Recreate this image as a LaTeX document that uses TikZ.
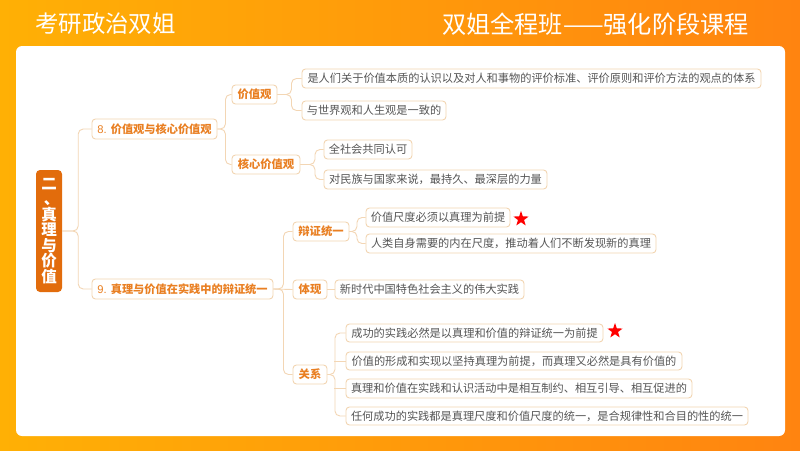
\documentclass[tikz,border=0pt]{standalone}
\usepackage{fontspec}
\setmainfont{Noto Sans CJK SC}
\newfontfamily\latinf{Liberation Sans}
\usetikzlibrary{shapes.geometric}
\definecolor{bgl}{HTML}{FFB005}
\definecolor{bgm}{HTML}{FF9A12}
\definecolor{bgr}{HTML}{FF8410}
\definecolor{rootc}{HTML}{E26C0C}
\definecolor{edgec}{HTML}{F3D6B4}
\definecolor{boxc}{HTML}{F2D5B2}
\definecolor{labc}{HTML}{E97F22}
\definecolor{leafc}{HTML}{555555}
\tikzset{
  base/.style={draw=boxc,fill=white,line width=0.9pt,rounded corners=3.5pt,inner sep=0pt,align=center},
  leafbox/.style={base,text=leafc,font=\fontsize{11.2}{13}\selectfont},
  labbox/.style={base,text=labc,font=\fontsize{11.3}{13}\selectfont\bfseries},
  headbox/.style={base,text=labc,font=\fontsize{11.2}{13}\selectfont\bfseries},
  conn/.style={draw=edgec,line width=0.9pt,rounded corners=5pt},
  rootbox/.style={fill=rootc,rounded corners=4pt,inner sep=0pt,text=white,align=center,
    font=\fontsize{15.5}{15.5}\selectfont\bfseries},
  titletext/.style={text=white,inner sep=0pt,font=\fontsize{23.4}{25}\selectfont},
  titletextb/.style={text=white,inner sep=0pt,font=\fontsize{24.2}{25}\selectfont},
  starmark/.style={star,star points=5,star point ratio=2.5,fill=red,inner sep=0pt,minimum size=16pt},
}
\newcommand{\bx}[7]{\node[#2,minimum width={(#5-#3)*1pt},minimum height={(#6-#4)*1pt}] (#1) at ({(#3+#5)/2},{(#4+#6)/2}) {#7};}
\begin{document}
\begin{tikzpicture}[x=1pt,y=-1pt]
\useasboundingbox (0,0) rectangle (800,450);
\shade[left color=bgl,middle color=bgm,right color=bgr] (0,0) rectangle (800,450);
\fill[white,rounded corners=6pt] (16,46) rectangle (785,436);
\node[titletext,anchor=west] (title1) at (35,24) {考研政治双姐};
\node[titletextb,anchor=east] (title2) at (749,24) {双姐全程班——强化阶段课程};
\bx{root}{rootbox}{36}{170}{62}{292}{二\\\hspace*{5pt}、\\真\\理\\与\\价\\值}
\bx{n8}{headbox}{92}{119}{217}{139}{{\latinf\mdseries 8. }价值观与核心价值观}
\bx{n9}{headbox}{92}{279}{273}{299}{{\latinf\mdseries 9. }真理与价值在实践中的辩证统一}
\bx{a1}{labbox}{232}{85}{277}{104}{价值观}
\bx{a2}{labbox}{232}{155}{300}{174}{核心价值观}
\bx{a1x}{leafbox}{302}{69}{761}{88}{是人们关于价值本质的认识以及对人和事物的评价标准、评价原则和评价方法的观点的体系}
\bx{a1y}{leafbox}{302}{101}{446}{120}{与世界观和人生观是一致的}
\bx{a2x}{leafbox}{324}{140}{412}{159}{全社会共同认可}
\bx{a2y}{leafbox}{324}{170}{547}{189}{对民族与国家来说，最持久、最深层的力量}
\bx{b1}{labbox}{293}{222}{349}{241}{辩证统一}
\bx{b2}{labbox}{293}{280}{327}{299}{体现}
\bx{b3}{labbox}{293}{365}{327}{384}{关系}
\bx{b1x}{leafbox}{366}{208}{510}{227}{价值尺度必须以真理为前提}
\bx{b1y}{leafbox}{366}{234}{656}{253}{人类自身需要的内在尺度，推动着人们不断发现新的真理}
\bx{b2x}{leafbox}{335}{280}{524}{299}{新时代中国特色社会主义的伟大实践}
\bx{b3p}{leafbox}{346}{324}{603}{342}{成功的实践必然是以真理和价值的辩证统一为前提}
\bx{b3q}{leafbox}{346}{352}{682}{370}{价值的形成和实现以坚持真理为前提，而真理又必然是具有价值的}
\bx{b3r}{leafbox}{346}{379}{692}{398}{真理和价值在实践和认识活动中是相互制约、相互引导、相互促进的}
\bx{b3s}{leafbox}{346}{407}{748}{425}{任何成功的实践都是真理尺度和价值尺度的统一，是合规律性和合目的性的统一}
\node[starmark] (s1) at (521,219) {};
\node[starmark] (s2) at (615,331) {};
\draw[conn] (root.east) -- ++(16,0) |- (n8.west);
\draw[conn] (root.east) -- ++(16,0) |- (n9.west);
\draw[conn] (n8.east) -- ++(8,0) |- (a1.west);
\draw[conn] (n8.east) -- ++(8,0) |- (a2.west);
\draw[conn] (a1.east) -- ++(14,0) |- (a1x.west);
\draw[conn] (a1.east) -- ++(14,0) |- (a1y.west);
\draw[conn] (a2.east) -- ++(14.5,0) |- (a2x.west);
\draw[conn] (a2.east) -- ++(14.5,0) |- (a2y.west);
\draw[conn] (n9.east) -- ++(10,0) |- (b1.west);
\draw[conn] (n9.east) -- (b2.west);
\draw[conn] (n9.east) -- ++(10,0) |- (b3.west);
\draw[conn] (b1.east) -- ++(7.5,0) |- (b1x.west);
\draw[conn] (b1.east) -- ++(7.5,0) |- (b1y.west);
\draw[conn] (b2.east) -- (b2x.west);
\draw[conn] (b3.east) -- ++(7.5,0) |- (b3p.west);
\draw[conn] (b3.east) -- ++(7.5,0) |- (b3s.west);
\draw[conn] (b3q.west) -- ++(-11.5,0);
\draw[conn] (b3r.west) -- ++(-11.5,0);
\end{tikzpicture}
\end{document}
